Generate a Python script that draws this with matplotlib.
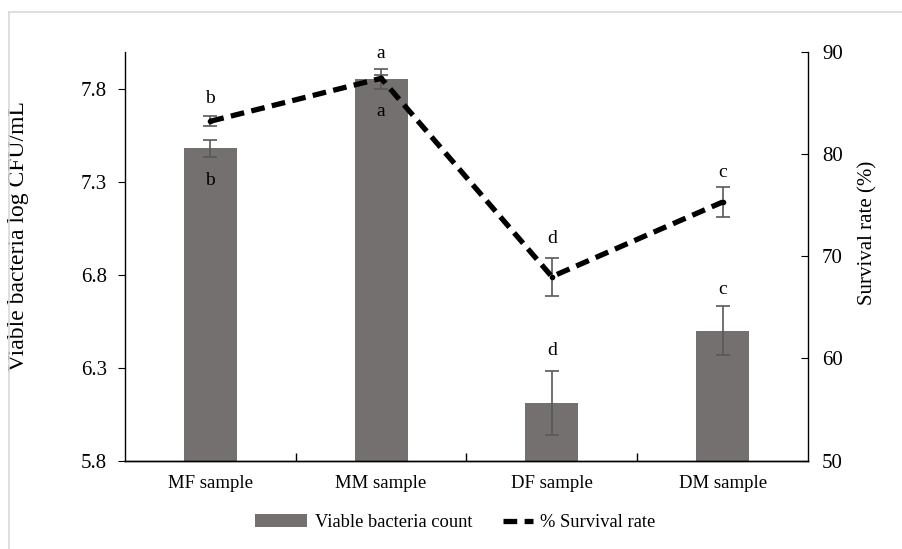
# viable bacteria count (bars) + survival rate (dashed line), twin y axes

import matplotlib.pyplot as plt
from matplotlib.lines import Line2D

samples = ["MF sample", "MM sample", "DF sample", "DM sample"]
viable_count = [7.48, 7.855, 6.11, 6.50]
viable_err = [0.047, 0.053, 0.17, 0.134]
survival = [83.2, 87.4, 68.0, 75.3]
survival_err = [0.5, 0.3, 1.85, 1.45]
bar_letters = ["b", "a", "d", "c"]
line_letters = ["b", "a", "d", "c"]
left_ticks = [5.8, 6.3, 6.8, 7.3, 7.8]
right_ticks = [50, 60, 70, 80, 90]

BAR_COLOR = "#757070"
ERR_COLOR = "#595959"
DASH = (0, (2.6, 1.4))

plt.rcParams["font.family"] = ["Liberation Serif", "DejaVu Serif"]

fig = plt.figure(figsize=(9.03, 5.49), dpi=100)
ax = fig.add_axes([0.1384, 0.1608, 0.7564, 0.745])
ax2 = ax.twinx()

x = list(range(len(samples)))
bars = ax.bar(x, viable_count, width=0.31, color=BAR_COLOR, zorder=2)
ax.errorbar(x, viable_count, yerr=viable_err, fmt="none", ecolor=ERR_COLOR,
            elinewidth=1.2, capsize=5, capthick=1.2, zorder=3)

ax2.errorbar(x, survival, yerr=survival_err, fmt="none", ecolor=ERR_COLOR,
             elinewidth=1.2, capsize=5, capthick=1.2, zorder=3)
line, = ax2.plot(x, survival, color="black", lw=3.8, ls=DASH, zorder=4)
ax2.plot(x, survival, "o", color="black", ms=3, zorder=5)

# significance letters
bar_label_y = [7.307, 7.68, 6.394, 6.72]
line_label_y = [85.4, 89.8, 71.7, 78.2]
for i in x:
    ax.text(i, bar_label_y[i], bar_letters[i], ha="center", va="center",
            fontsize=14, zorder=6)
    ax2.text(i, line_label_y[i], line_letters[i], ha="center", va="center",
             fontsize=14, zorder=6)

ax.set_xlim(-0.5, len(samples) - 0.5)
ax.set_ylim(5.8, 8.0)
ax2.set_ylim(50, 90)
ax.set_yticks(left_ticks)
ax.set_yticklabels([f"{v:.1f}" for v in left_ticks])
ax2.set_yticks(right_ticks)

ax.set_xticks(x)
ax.set_xticklabels(samples)
ax.set_xticks([i + 0.5 for i in x[:-1]], minor=True)
ax.tick_params(axis="x", which="major", length=0, labelsize=13.5, pad=10)
ax.tick_params(axis="x", which="minor", length=6, direction="in", width=1)
ax.tick_params(axis="y", length=5, direction="out", labelsize=15, pad=8)
ax2.tick_params(axis="y", length=5, direction="in", labelsize=15, pad=10)

for a in (ax, ax2):
    a.spines["top"].set_visible(False)
    for s in ("left", "right", "bottom"):
        a.spines[s].set_linewidth(1.0)
ax.spines["right"].set_visible(False)
ax2.spines["left"].set_visible(False)

ax.set_ylabel("Viable bacteria log CFU/mL", fontsize=17)
ax2.set_ylabel("Survival rate (%)", fontsize=15)
ax.yaxis.set_label_coords(-0.14, 0.55)
ax2.yaxis.set_label_coords(1.073, 0.556)
ax.set_zorder(ax2.get_zorder() - 1)
ax2.patch.set_visible(False)

# two legend entries placed separately (the dashed handle is shorter)
leg_kw = dict(loc="center left", frameon=False, fontsize=13.3,
              borderpad=0, borderaxespad=0, handletextpad=0.4)
fig.legend([bars[0]], ["Viable bacteria count"],
           bbox_to_anchor=(0.282, 0.048), handlelength=2.85, **leg_kw)
fig.legend([Line2D([], [], color="black", lw=3.8, ls=DASH)],
           ["% Survival rate"],
           bbox_to_anchor=(0.557, 0.048), handlelength=1.62, **leg_kw)

# light frame on top and left edge like the source image
fig.add_artist(Line2D([0.010, 1.0], [0.978, 0.978], color="#d9d9d9", lw=1.2))
fig.add_artist(Line2D([0.010, 0.010], [0.0, 0.978], color="#d9d9d9", lw=1.2))

fig.savefig("out.png", dpi=100)
